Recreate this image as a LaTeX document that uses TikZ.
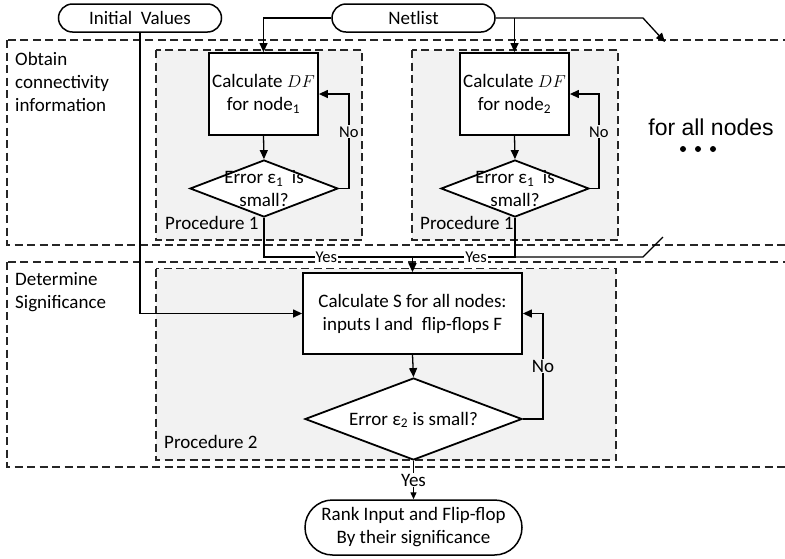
\documentclass[tikz,border=0pt]{standalone}
\usepackage{fontspec}
\setmainfont{Carlito}
\newfontfamily\arialf{Liberation Sans}
\usetikzlibrary{shapes.geometric,shapes.misc,arrows.meta,calc}
\definecolor{procfill}{HTML}{F2F2F2}
\begin{document}
\begin{tikzpicture}[x=1pt,y=-1pt,
  font=\fontsize{19}{23}\selectfont,
  conn/.style={line width=1.3pt,black},
  arr/.style={conn,-{Triangle[length=9pt,width=8pt]}},
  outerbox/.style={draw=black!85,line width=1.3pt,dash pattern=on 8pt off 4.5pt},
  procbox/.style={draw=black!85,fill=procfill,line width=1.1pt,dash pattern=on 8pt off 4.5pt},
  box/.style={draw,line width=1.8pt,fill=white,align=center,inner sep=0pt},
  dia/.style={diamond,draw,line width=1.8pt,fill=white,inner sep=0pt},
  term/.style={rounded rectangle,draw,line width=1.5pt,fill=white,align=center,inner sep=0pt},
  txt/.style={inner sep=0pt,align=center},
  lbl/.style={inner sep=0pt,align=left,anchor=west},
  small/.style={font=\fontsize{16.5}{19}\selectfont,inner sep=1pt}
]
\useasboundingbox (0,0) rectangle (785,558);
\clip (0,0) rectangle (785,558);

% dashed group boxes
\draw[outerbox] (7,40) rectangle (800,245);
\draw[outerbox] (7,262) rectangle (800,467);
\draw[procbox] (156,50) rectangle (362,240);
\draw[procbox] (412,50) rectangle (618,240);
\draw[procbox] (156,268.5) rectangle (616,460);

% group labels
\node[lbl] (ob) at (15,82) {Obtain\\connectivity\\information};
\node[lbl] (ds) at (15,292.5) {Determine\\Significance};
\node[lbl] (p1) at (165,223) {Procedure 1};
\node[lbl] (p1b) at (420,223) {Procedure 1};
\node[lbl] (p2) at (164,442) {Procedure 2};

% terminals
\node[term,minimum width=163pt,minimum height=28pt] (iv) at (140,18) {Initial\ \ Values};
\node[term,minimum width=163pt,minimum height=28pt] (nl) at (413.5,18) {Netlist};

% procedure 1 (node 1)
\node[box,minimum width=109pt,minimum height=82pt] (c1) at (263.5,94) {Calculate $DF$\\for node\textsubscript{1}};
\node[dia,minimum width=148pt,minimum height=57pt] (d1) at (264,188.5) {};
\node[txt] (t1) at (264,189) {Error ε\textsubscript{1}\ \ is\\small?};

% procedure 1 (node 2)
\node[box,minimum width=109pt,minimum height=82pt] (c2) at (514.5,94) {Calculate $DF$\\for node\textsubscript{2}};
\node[dia,minimum width=148pt,minimum height=57pt] (d2) at (515,188.5) {};
\node[txt] (t2) at (515,189) {Error ε\textsubscript{1}\ \ is\\small?};

% for all nodes
\node[inner sep=0pt,font=\arialf\fontsize{23}{26}\selectfont] (fan) at (711,127) {for all nodes};
\fill (683,149) circle (3pt) (698,149) circle (3pt) (713,149) circle (3pt);

% procedure 2
\node[box,minimum width=219pt,minimum height=81pt] (cs) at (412.5,313.5) {Calculate S for all nodes:\\inputs I and\ \ flip-flops F};
\node[dia,minimum width=217pt,minimum height=82pt] (d3) at (413.5,419) {};
\node[txt] (t3) at (413.5,420) {Error ε\textsubscript{2} is small?};

% final
\node[term,minimum width=217pt,minimum height=55pt] (rk) at (413.5,527.5) {Rank Input and Flip-flop\\By their significance};

% connectors
\draw[arr] (nl.west) -| (c1.north);
\coordinate (j1) at (c2.north |- nl.east);
\draw[arr] (j1) -- (c2.north);
\coordinate (b1) at (643,18);
\coordinate (b1e) at (665,42);
\draw[arr] (nl.east) -- (b1) -- (b1e);

\draw[arr] (c1.south) -- (d1.north);
\draw[arr] (d1.east) -| node[pos=0.8,fill=procfill,small]{No} ($(c1.east)+(30,0)$) -- (c1.east);
\draw[arr] (c2.south) -- (d2.north);
\draw[arr] (d2.east) -| node[pos=0.8,fill=procfill,small]{No} ($(c2.east)+(29,0)$) -- (c2.east);

\coordinate (yl) at (0,257);
\coordinate (jy) at (cs.north |- yl);
\draw[conn] (d1.south) |- node[pos=0.71,fill=white,small]{Yes} (jy);
\draw[conn] (d2.south) |- node[pos=0.69,fill=white,small]{Yes} (jy);
\coordinate (b2) at (643,257);
\coordinate (b2e) at (663,237);
\draw[conn] (d2.south |- yl) -- (b2) -- (b2e);
\draw[arr] (jy) -- (cs.north);

\draw[arr] (iv.south) |- (cs.west);
\draw[arr] (cs.south) -- (d3.north);
\draw[arr] (d3.east) -| node[pos=0.75,fill=procfill,inner sep=1pt]{No} ($(cs.east)+(20,0)$) -- (cs.east);
\draw[conn,-{Triangle[length=7pt,width=6pt]}] (d3.south) -- node[fill=white,inner sep=1pt]{Yes} (rk.north);
\end{tikzpicture}
\end{document}
